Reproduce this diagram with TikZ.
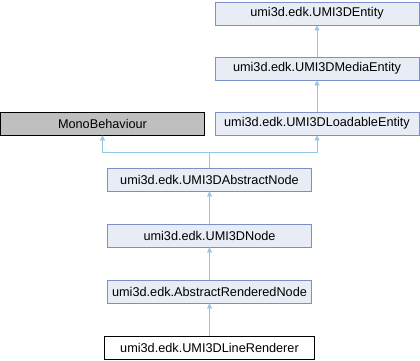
\documentclass[tikz,border=0pt]{standalone}
\usepackage{fontspec}
\setmainfont{Liberation Sans}
\usetikzlibrary{arrows.meta}
\definecolor{boxfill}{HTML}{E8ECF5}
\definecolor{boxline}{HTML}{7C8FC8}
\definecolor{edgeblue}{HTML}{94C6E6}
\definecolor{extfill}{HTML}{BFBFBF}

\begin{document}
\begin{tikzpicture}[x=1pt,y=-1pt,
  cls/.style={draw=boxline,fill=boxfill,line width=0.8pt,minimum width=204pt,minimum height=23pt,inner sep=0pt,font=\fontsize{12.7}{14}\selectfont},
  ext/.style={cls,draw=black,fill=extfill},
  cur/.style={cls,draw=black,fill=white,minimum width=210pt},
  inh/.style={draw=edgeblue,line width=0.8pt,-{Triangle[length=5pt,width=5pt]}}]
  \useasboundingbox (0,0) rectangle (420,360);
  \path (317,13.5) node[cls] (ent) {umi3d.edk.UMI3DEntity}
  (317,68.5) node[cls] (media) {umi3d.edk.UMI3DMediaEntity}
  (317,123.5) node[cls] (load) {umi3d.edk.UMI3DLoadableEntity}
  (102.5,123.5) node[ext] (mono) {MonoBehaviour}
  (209.5,179.5) node[cls] (abs) {umi3d.edk.UMI3DAbstractNode}
  (209.5,235.5) node[cls] (node) {umi3d.edk.UMI3DNode}
  (209.5,291.5) node[cls] (rend) {umi3d.edk.AbstractRenderedNode}
  (209.5,347.5) node[cur] (line) {umi3d.edk.UMI3DLineRenderer};
  \draw[inh] (media) -- (ent);
  \draw[inh] (load) -- (media);
  \draw[inh] (abs.north) |- (209.5,152) -| (mono.south);
  \draw[inh] (abs.north) |- (209.5,152) -| (load.south);
  \draw[inh] (node) -- (abs);
  \draw[inh] (rend) -- (node);
  \draw[inh] (line) -- (rend);
\end{tikzpicture}
\end{document}
